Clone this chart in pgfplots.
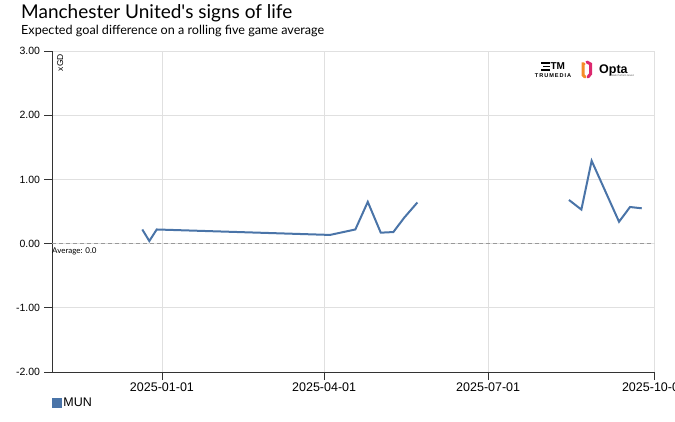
\documentclass[border=0pt]{standalone}
\usepackage{fontspec}
\setmainfont{Lato}
\newfontfamily\arialf{Liberation Sans}
\usepackage{pgfplots}
\pgfplotsset{compat=1.18}
\definecolor{mun}{RGB}{74,116,168}
\definecolor{optaor}{RGB}{245,140,40}
\definecolor{optapk}{RGB}{220,40,110}
\begin{document}
\begin{tikzpicture}
\useasboundingbox (-52bp,-50bp) rectangle (623bp,372bp);
\begin{axis}[
  scale only axis, width=602bp, height=321bp,
  xmin=-61, xmax=273, ymin=-2, ymax=3,
  xtick={0,90,181,273},
  xticklabels={2025-01-01,2025-04-01,2025-07-01,2025-10-01},
  ytick={-2,-1,0,1,2,3},
  yticklabels={-2.00,-1.00,0.00,1.00,2.00,3.00},
  axis x line*=bottom, axis y line*=left,
  axis line style={-, draw=black!80, line width=0.8bp},
  xtick pos=lower, ytick pos=left,
  tick align=outside,
  tick style={draw=black!80, line width=0.8bp},
  major tick length=7.5bp,
  grid=major,
  major grid style={draw=black!12, line width=0.7bp},
  xticklabel style={font=\arialf\fontsize{12.5bp}{14bp}\selectfont, yshift=0bp},
  yticklabel style={font=\arialf\fontsize{10.5bp}{12bp}\selectfont, xshift=-1bp},
  clip=false,
  legend style={at={(0,0)}, anchor=north west, xshift=0bp, yshift=-24bp,
    draw=none, fill=none, font=\arialf\fontsize{12.5bp}{14bp}\selectfont,
    inner sep=0pt, outer sep=0pt},
  legend cell align=left,
  legend image code/.code={\fill[mun] (0bp,-4bp) rectangle (7.5bp,4bp);},
]
\addplot[black!40, dash pattern=on 4bp off 3bp, line width=0.9bp, forget plot]
  coordinates {(-61,0) (273,0)};
\addplot[mun, line width=2bp, line join=miter, unbounded coords=jump]
  coordinates {
  (-10.9,0.22) (-7.0,0.04) (-2.9,0.22) (93.2,0.135) (107.3,0.22)
  (114.2,0.65) (121.4,0.17) (128.4,0.18) (134.3,0.40) (141.7,0.64)
  (190,nan)
  (225.8,0.68) (232.7,0.53) (238.4,1.29) (253.6,0.34) (259.7,0.57) (266.2,0.55)
  };
\addlegendentry{MUN}
\node[anchor=north west, inner sep=0pt, font=\fontsize{8bp}{9bp}\selectfont]
  at (axis cs:-61,0) [yshift=-3.5bp] {Average: 0.0};
\node[rotate=90, anchor=east, inner sep=0pt, font=\arialf\fontsize{8.5bp}{10bp}\selectfont]
  at (axis cs:-56.5,2.955) {xGD};
\end{axis}
% title and subtitle
\node[anchor=base west, inner sep=0pt, font=\fontsize{19bp}{22bp}\selectfont]
  at (-31bp,353.7bp) {Manchester United\textquotesingle s signs of life};
\node[anchor=base west, inner sep=0pt, font=\fontsize{12.6bp}{14bp}\selectfont]
  at (-31bp,337.7bp) {Expected goal difference on a rolling five game average};
% TruMedia logo
\begin{scope}[line width=1.1bp, black]
  \draw (489bp,309bp) -- (498bp,309bp);
  \draw (491bp,305.5bp) -- (498bp,305.5bp);
  \draw (489bp,302bp) -- (498bp,302bp);
  \node[anchor=base west, inner sep=0pt, font=\arialf\bfseries\fontsize{10bp}{11bp}\selectfont] at (498bp,302bp) {TM};
\end{scope}
\node[anchor=base, inner sep=0pt, font=\arialf\bfseries\fontsize{5.6bp}{6bp}\selectfont]
  at (501bp,294.5bp) {T\,R\,U\,M\,E\,D\,I\,A};
% Opta logo
\draw[optaor, line width=3bp, line cap=round] (532bp,308bp) -- (531bp,308bp) -- (531bp,297bp) -- (533bp,295bp);
\draw[optapk, line width=3bp, line cap=round] (535bp,310bp) -- (538.5bp,308bp) -- (538.5bp,298bp) -- (536bp,295bp);
\node[anchor=base west, inner sep=0pt, font=\arialf\bfseries\fontsize{12.5bp}{14bp}\selectfont]
  at (547bp,298.5bp) {Opta};
\node[anchor=base west, inner sep=0pt, font=\arialf\fontsize{2.5bp}{3bp}\selectfont, black!70]
  at (557bp,295bp) {a Stats Perform brand};
\end{tikzpicture}
\end{document}
